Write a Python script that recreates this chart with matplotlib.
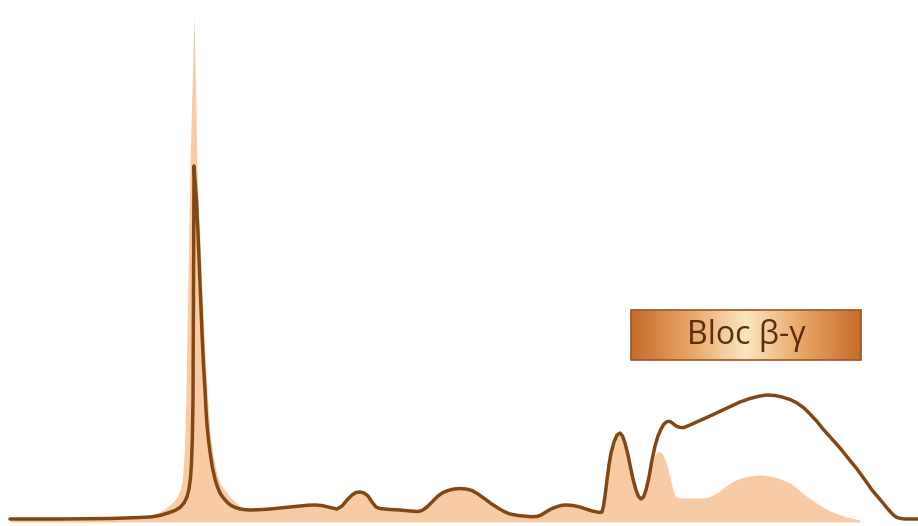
import numpy as np
import matplotlib
matplotlib.use('Agg')
import matplotlib.pyplot as plt
from matplotlib.colors import LinearSegmentedColormap
from matplotlib.patches import Rectangle

# pic d'albumine - courbe du patient
alb_line_x = [10, 60, 110, 140, 150, 160, 168, 175, 180, 184, 187, 189, 190.5, 191.5, 192.3,
              193, 193.4, 193.7, 194, 195, 196.5, 198, 200, 202, 203.5, 205, 206, 207, 208.5,
              210, 212.5, 215, 217.5, 220, 223, 226, 229, 232, 236, 240, 245, 250]
alb_line_y = [1, 1, 1.5, 2.5, 3, 4.5, 7, 9.5, 12.5, 17, 23, 31, 42, 57, 80,
              120, 200, 280, 354, 340, 318, 287, 237, 187, 155, 130, 110, 95, 80,
              68, 52, 41, 33, 27, 22.5, 19, 16, 14, 12.3, 11, 10.3, 10]

# pic d'albumine - profil normal
alb_ref_x = [10, 60, 110, 140, 150, 157, 163, 167, 171, 175, 178, 180, 182, 183.5, 184.5,
             185, 186, 187, 188.5, 190, 192, 194, 195.5, 197, 199, 201.5, 204, 207, 210,
             213, 216, 218, 220, 223, 226, 229.5, 233, 236.5, 240, 245, 250]
alb_ref_y = [1.5, 1.5, 2, 3, 4.5, 7, 10, 13, 16, 20, 25, 30, 37, 55, 72,
             87, 130, 187, 270, 353, 430, 505, 430, 353, 300, 240, 187, 130, 87,
             65, 50, 43, 37, 32, 28, 24, 20, 17, 14, 12, 11]

# zone commune (alpha1, alpha2, beta1)
mid_x = [260, 270, 285, 300, 308, 315, 322, 330, 337, 342, 347, 352, 356, 360, 364,
         368, 372, 376, 380, 390, 400, 410, 418, 422, 427, 432, 438, 443, 448, 454,
         460, 466, 472, 478, 485, 491, 498, 504, 510, 518, 525, 531, 537, 541, 546,
         551, 556, 562, 567, 573, 580, 586, 592, 597, 600, 602, 603.5, 605, 607, 609,
         611, 614, 617, 620, 622.5, 625, 628, 630, 633, 636, 638.5, 641, 643.5, 646, 649]
mid_y = [10.3, 11, 12.5, 14, 14.8, 15, 14.5, 12.5, 11, 14, 20, 25, 27.5, 28, 27,
         24, 18, 13, 11.5, 10.5, 10, 9, 8.5, 9.5, 13, 18, 24, 27.5, 29.5, 31,
         31.5, 31, 29.5, 26, 21, 16.5, 12, 8.5, 6, 4.5, 3.8, 3.3, 3.5, 5, 8,
         11, 13, 14.8, 15, 14.5, 13, 11, 9, 8, 7.5, 8, 14, 24, 40, 55,
         67, 78, 85, 87, 84, 77, 65, 55, 41, 30, 23.5, 21, 23, 30, 43]

# bloc beta-gamma - patient
tail_line_x = [652, 655, 658, 661, 664, 667, 670, 673, 676, 680, 684, 690, 700, 710, 725,
               740, 750, 760, 767, 775, 782, 790, 797, 804, 810, 817, 823, 831, 840, 848,
               857, 865, 872, 878, 883, 887, 891, 894, 897, 901, 905, 918]
tail_line_y = [60, 74, 84, 91, 96, 98.5, 98.5, 96.5, 94, 92.5, 92.5, 95, 99.5, 104, 111,
               118, 121.5, 124, 125, 124.5, 123, 120.5, 117, 112, 106, 98.5, 91, 82, 72, 62,
               51, 40, 30, 23, 17, 12, 7.5, 4.5, 2.5, 1.5, 1, 1]

# beta2 + gamma - profil normal
tail_ref_x = [652, 654, 656, 658, 660, 662, 664, 667, 669, 671, 673, 675, 678, 685, 700,
              707, 712, 718, 724, 730, 738, 745, 752, 760, 767, 775, 782, 790, 797, 805,
              814, 823, 830, 838, 845, 853, 860]
tail_ref_y = [58, 63, 66.5, 68.5, 68.5, 67, 63, 55, 47, 38, 30, 24, 22.3, 22, 22,
              22.5, 24.5, 28, 32.5, 37, 41, 43.2, 44.5, 45, 44.5, 43, 40.5, 37, 32, 25,
              18.5, 13, 9, 6, 3.5, 1.5, 0]

label = 'Bloc β-γ'
box_x = [631, 861]
box_y = [160, 210]

patient_x = alb_line_x + mid_x + tail_line_x
patient_y = alb_line_y + mid_y + tail_line_y
ref_x = alb_ref_x + mid_x + tail_ref_x
ref_y = alb_ref_y + mid_y + tail_ref_y

fig = plt.figure(figsize=(9.18, 5.26), dpi=100)
ax = fig.add_axes([0, 0, 1, 1])

ax.fill_between(ref_x, ref_y, -2, color='#f8cba4', lw=0, zorder=1)
ax.plot(patient_x, patient_y, color='#834716', lw=2.5, solid_joinstyle='round',
        solid_capstyle='round', zorder=2)

# encadre avec degrade horizontal
cmap = LinearSegmentedColormap.from_list('bloc', ['#c76c2a', '#e8a465', '#fbe6bd', '#e8a465', '#c76c2a'])
grad = np.linspace(0, 1, 256).reshape(1, -1)
ax.imshow(grad, cmap=cmap, aspect='auto', extent=(box_x[0], box_x[1], box_y[0], box_y[1]),
          zorder=3, interpolation='bicubic')
ax.add_patch(Rectangle((box_x[0], box_y[0]), box_x[1] - box_x[0], box_y[1] - box_y[0],
                       fill=False, ec='#9a5526', lw=1.2, zorder=4))
ax.text((box_x[0] + box_x[1]) / 2, (box_y[0] + box_y[1]) / 2 - 1, label,
        ha='center', va='center', fontsize=23, color='#5a2e0e',
        family=['Open Sans', 'DejaVu Sans'], zorder=5)

ax.set_xlim(0, 918)
ax.set_ylim(-6, 520)
ax.axis('off')

fig.savefig('out.png', dpi=100)
